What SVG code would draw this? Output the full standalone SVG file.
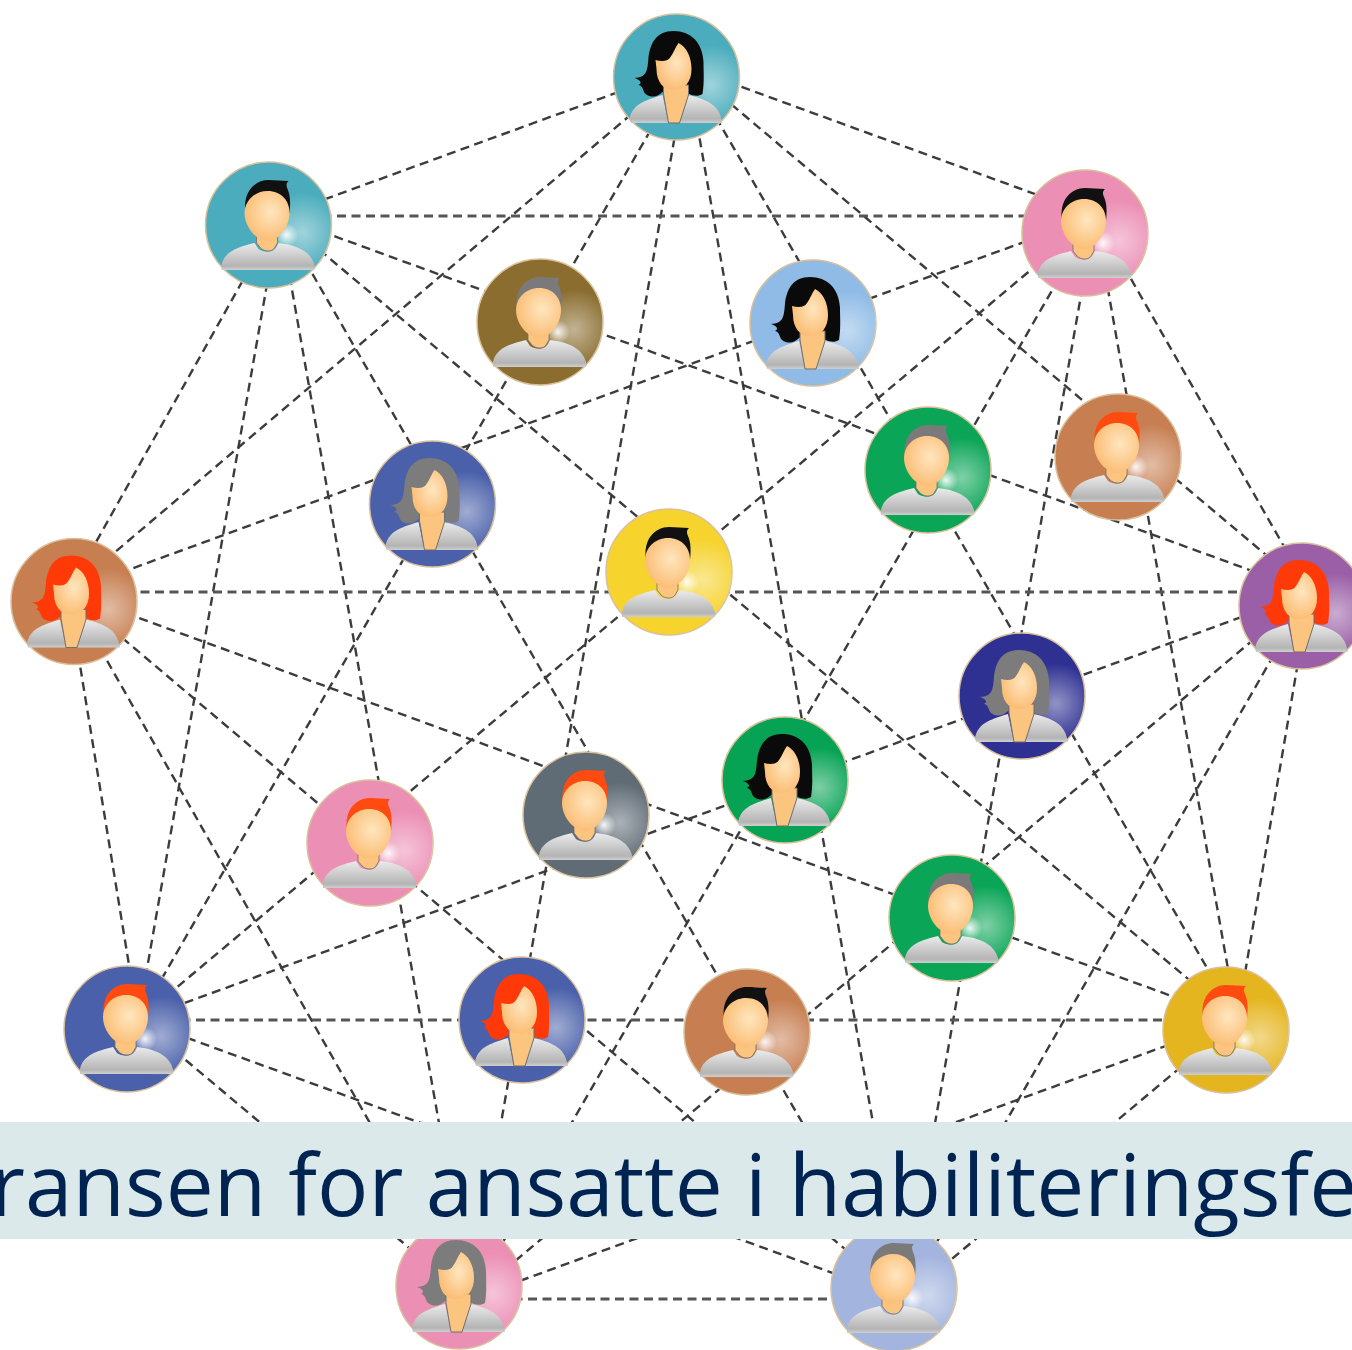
<svg xmlns="http://www.w3.org/2000/svg" xmlns:xlink="http://www.w3.org/1999/xlink" width="1352" height="1350" viewBox="0 0 1352 1350">
<style>
.e{stroke:#3c3c3c;stroke-width:2.4;stroke-dasharray:9 5.5;fill:none}
.h{stroke:#555;stroke-width:3}
.d{stroke:#d9c09a;stroke-width:1.5}
.t{font-family:"Open Sans",sans-serif;font-size:85.5px;fill:#002452}
</style>
<defs>
<radialGradient id="glow" cx="0.77" cy="0.56" r="0.32"><stop offset="0" stop-color="#fff" stop-opacity=".48"/><stop offset="1" stop-color="#fff" stop-opacity="0"/></radialGradient>
<radialGradient id="spot" cx="0.5" cy="0.5" r="0.5"><stop offset="0" stop-color="#fff" stop-opacity=".9"/><stop offset="1" stop-color="#fff" stop-opacity="0"/></radialGradient>
<radialGradient id="skin" cx="0.58" cy="0.42" r="0.6"><stop offset="0" stop-color="#ffe6bf"/><stop offset="1" stop-color="#fbbd74"/></radialGradient>
<linearGradient id="cloth" x1="0" y1="0" x2="0" y2="1"><stop offset="0" stop-color="#ebebeb"/><stop offset=".85" stop-color="#b4b4b4"/><stop offset="1" stop-color="#cfcfcf"/></linearGradient>
<g id="woman">
<circle r="63" fill="url(#glow)"/>
<path fill="url(#cloth)" d="M-47,42C-44,28-34,24-14,18L-8,46H-46ZM11,18C30,22 42,28 45,42L46,46H3Z"/>
<path fill="currentColor" d="M-3,-46C-20,-46-26,-34-28,-20C-29,-5-30,0-42,1C-36,3-34,6-38,8C-33,9-34,14-31,17C-24,22-18,19-14,15L6,10C10,18 20,21 26,17C28,5 27,-5 27,-15C26,-35 14,-46-3,-46Z"/>
<path fill="#fbc47f" stroke="#6f6f6f" stroke-width="1" d="M-13,8V17L-8,46H3L12,18V8Z"/>
<path fill="url(#skin)" d="M2,-34C10,-30 15,-20 15,-8C15,5 8,13-3,13C-13,13-20,5-20,-8L-21,-17C-14,-15-8,-16-6,-20C-3,-24-1,-30 2,-34Z"/>
</g>
<g id="man">
<circle r="63" fill="url(#glow)"/>
<circle cx="18" cy="10" r="12" fill="url(#spot)"/>
<path fill="url(#cloth)" d="M-47,40C-44,26-30,22-14,18L-10,24C-4,28 4,28 8,22L10,18C28,20 42,26 46,40L46,45H-47Z"/>
<path fill="#fbc47f" stroke="#6f6f6f" stroke-width=".8" d="M-12,6V18L-8,23C-4,27 4,27 6,23L9,18V6Z"/>
<path fill="currentColor" d="M-23,-12C-26,-33-14,-45 0,-45C7,-45 13,-44 20,-44C17,-41 18,-39 19,-36C22,-30 22,-20 21,-12Z"/>
<path fill="url(#skin)" d="M-1,-34C13,-34 21,-24 21,-12C21,2 10,16-1,16C-12,16-24,2-24,-12C-24,-24-14,-34-1,-34Z"/>
</g>
</defs>
<g id="connectors">
<path class="e" d="M687,67L1095,216M687,67L1310,592M687,67L1237,1020M687,67L904,1299M687,67L470,1299M687,67L138,1020M687,67L68,592M687,67L279,216"/>
<path class="e" d="M1095,216L1310,592M1095,216L1237,1020M1095,216L904,1299M1095,216L470,1299M1095,216L138,1020M1095,216L68,592"/>
<path class="e" d="M1310,592L1237,1020M1310,592L904,1299M1310,592L470,1299M1310,592L138,1020M1310,592L279,216"/>
<path class="e" d="M1237,1020L904,1299M1237,1020L470,1299M1237,1020L68,592M1237,1020L279,216"/>
<path class="e" d="M904,1299L138,1020M904,1299L68,592M904,1299L279,216"/>
<path class="e" d="M470,1299L138,1020M470,1299L68,592M470,1299L279,216"/>
<path class="e" d="M138,1020L68,592M138,1020L279,216M68,592L279,216"/>
<path class="e h" d="M279,216H1095M68,592H1310M138,1020H1237M470,1299H904"/>
</g>
<g id="n1" transform="translate(676.5,77)"><circle class="d" r="63" fill="#4aacbc"/><use href="#woman" color="#0a0a0a"/></g>
<g id="n2" transform="translate(268.5,225)"><circle class="d" r="63" fill="#4aacbc"/><use href="#man" color="#111"/></g>
<g id="n3" transform="translate(1085,233)"><circle class="d" r="63" fill="#ec8fb5"/><use href="#man" color="#111"/></g>
<g id="n4" transform="translate(540,322)"><circle class="d" r="63" fill="#8a6d2f"/><use href="#man" color="#7a7a7a"/></g>
<g id="n5" transform="translate(813,323)"><circle class="d" r="63" fill="#8fbbe6"/><use href="#woman" color="#0a0a0a"/></g>
<g id="n6" transform="translate(432.5,504)"><circle class="d" r="63" fill="#4a60aa"/><use href="#woman" color="#7c7c7c"/></g>
<g id="n7" transform="translate(928,470)"><circle class="d" r="63" fill="#0aa556"/><use href="#man" color="#7a7a7a"/></g>
<g id="n8" transform="translate(1118,457)"><circle class="d" r="63" fill="#c77f52"/><use href="#man" color="#ff4a10"/></g>
<g id="n9" transform="translate(74,601.5)"><circle class="d" r="63" fill="#c77f52"/><use href="#woman" color="#ff3a08"/></g>
<g id="n10" transform="translate(669,572)"><circle class="d" r="63" fill="#f6d32d"/><use href="#man" color="#111"/></g>
<g id="n11" transform="translate(1302,606)"><circle class="d" r="63" fill="#9a5fa6"/><use href="#woman" color="#ff3a08"/></g>
<g id="n12" transform="translate(1022,696)"><circle class="d" r="63" fill="#2e3192"/><use href="#woman" color="#7c7c7c"/></g>
<g id="n13" transform="translate(785,780)"><circle class="d" r="63" fill="#06a354"/><use href="#woman" color="#0a0a0a"/></g>
<g id="n14" transform="translate(586,815)"><circle class="d" r="63" fill="#5f6b75"/><use href="#man" color="#ff4a10"/></g>
<g id="n15" transform="translate(370,843)"><circle class="d" r="63" fill="#ec8fb5"/><use href="#man" color="#ff4a10"/></g>
<g id="n16" transform="translate(952,918)"><circle class="d" r="63" fill="#0aa556"/><use href="#man" color="#7a7a7a"/></g>
<g id="n17" transform="translate(127,1029)"><circle class="d" r="63" fill="#4a60aa"/><use href="#man" color="#ff4a10"/></g>
<g id="n18" transform="translate(522,1020)"><circle class="d" r="63" fill="#4a60aa"/><use href="#woman" color="#ff3a08"/></g>
<g id="n19" transform="translate(747,1032)"><circle class="d" r="63" fill="#c77f52"/><use href="#man" color="#111"/></g>
<g id="n20" transform="translate(1226,1030)"><circle class="d" r="63" fill="#e5b51f"/><use href="#man" color="#ff4a10"/></g>
<g id="n21" transform="translate(459,1286)"><circle class="d" r="63" fill="#ec8fb5"/><use href="#woman" color="#7c7c7c"/></g>
<g id="n22" transform="translate(894,1288)"><circle class="d" r="63" fill="#a3b4de"/><use href="#man" color="#7a7a7a"/></g>
<g id="banner">
<rect x="0" y="1122" width="1352" height="117" fill="#dbe9ea"/>
<text class="t" x="-10" y="1216">ransen for ansatte i habiliteringsfe</text>
</g>
</svg>
